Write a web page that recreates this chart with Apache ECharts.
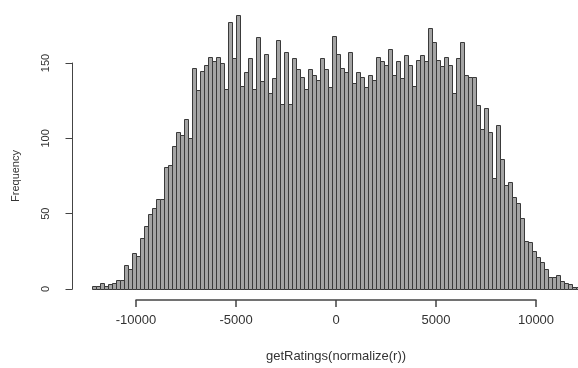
<!DOCTYPE html>
<html>
<head>
<meta charset="utf-8">
<title>getRatings histogram</title>
<script src="https://cdn.jsdelivr.net/npm/echarts@6/dist/echarts.min.js"></script>
<style>
  html, body { margin: 0; padding: 0; background: #fff; }
  #chart { width: 578px; height: 368px; }
</style>
</head>
<body>
<div id="chart"></div>
<script>
// histogram breaks: 200 wide, starting at -12200
const binStart = -12200;
const binWidth = 200;

// frequency of each bin (left to right)
const counts = [
  2, 2, 4, 2, 3, 4, 6, 6, 16, 13,
  24, 22, 34, 42, 50, 54, 60, 60, 81, 82,
  95, 104, 102, 113, 100, 147, 132, 145, 149, 154,
  151, 154, 150, 133, 177, 153, 182, 135, 144, 153,
  133, 167, 138, 156, 130, 140, 165, 123, 157, 123,
  153, 146, 141, 133, 146, 142, 139, 153, 146, 134,
  168, 156, 147, 144, 157, 137, 144, 141, 134, 142,
  139, 154, 151, 149, 159, 142, 151, 140, 155, 149,
  135, 152, 155, 151, 173, 164, 152, 148, 154, 149,
  130, 153, 164, 142, 141, 141, 122, 106, 120, 104,
  74, 109, 86, 69, 71, 61, 57, 47, 32, 31,
  25, 21, 18, 13, 8, 8, 9, 5, 4, 3,
  1, 1
];

const xTicks = [-10000, -5000, 0, 5000, 10000];
const yTicks = [0, 50, 100, 150];

// [left edge, right edge, count]
const bins = counts.map((c, i) => {
  const left = binStart + i * binWidth;
  return [left, left + binWidth, c];
});

const chart = echarts.init(document.getElementById('chart'));

const font = 'Liberation Sans, Arial, sans-serif';
const textColor = '#333';
const lineColor = '#444';

const option = {
  animation: false,
  grid: {
    left: 136,
    right: 42,
    top: 63,
    bottom: 73
  },
  xAxis: {
    type: 'value',
    min: xTicks[0],
    max: xTicks[xTicks.length - 1],
    interval: 5000,
    offset: 11,
    name: 'getRatings(normalize(r))',
    nameLocation: 'middle',
    nameGap: 50,
    nameTextStyle: { color: textColor, fontSize: 13, fontFamily: font },
    axisLine: { show: true, onZero: false, lineStyle: { color: lineColor, width: 1.5 } },
    axisTick: { show: true, length: 7, lineStyle: { color: lineColor, width: 1.5 } },
    axisLabel: { color: textColor, fontSize: 13, fontFamily: font, margin: 14, formatter: v => String(v) },
    splitLine: { show: false }
  },
  yAxis: {
    type: 'value',
    min: yTicks[0],
    max: yTicks[yTicks.length - 1],
    interval: 50,
    offset: 63.5,
    name: 'Frequency',
    nameLocation: 'middle',
    nameRotate: 90,
    nameGap: 51,
    nameTextStyle: { color: textColor, fontSize: 11, fontFamily: font },
    axisLine: { show: true, onZero: false, lineStyle: { color: lineColor, width: 1 } },
    axisTick: { show: true, length: 7, lineStyle: { color: lineColor, width: 1 } },
    axisLabel: { color: textColor, fontSize: 11, fontFamily: font, rotate: 90, margin: 21 },
    splitLine: { show: false }
  },
  series: [
    {
      type: 'custom',
      clip: false,
      data: bins,
      encode: { x: [0, 1], y: 2 },
      renderItem: function (params, api) {
        const p0 = api.coord([api.value(0), api.value(2)]);
        const p1 = api.coord([api.value(1), 0]);
        const x0 = Math.round(p0[0]);
        const x1 = Math.round(p1[0]);
        const y0 = Math.round(p0[1]);
        const y1 = Math.round(p1[1]);
        return {
          type: 'rect',
          shape: { x: x0 + 0.5, y: y0 + 0.5, width: x1 - x0, height: y1 - y0 },
          style: { fill: '#a4a4a4', stroke: '#3a3a3a', lineWidth: 1 }
        };
      }
    }
  ]
};

chart.setOption(option);
</script>
</body>
</html>
